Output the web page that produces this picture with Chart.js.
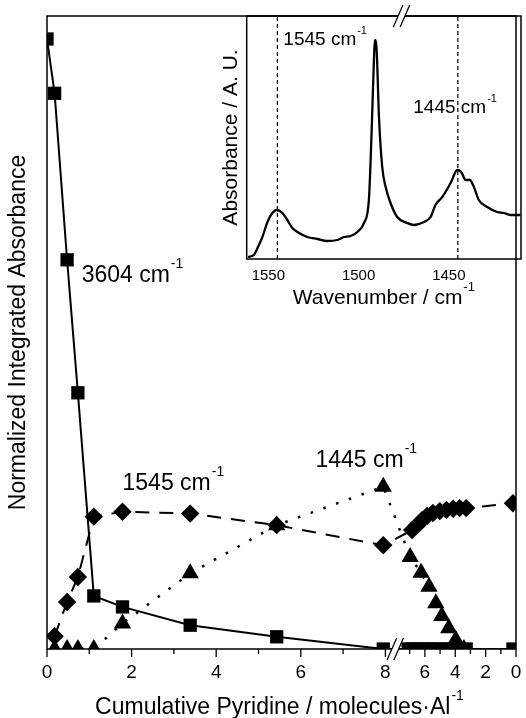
<!DOCTYPE html>
<html>
<head>
<meta charset="utf-8">
<title>Pyridine adsorption / desorption</title>
<script src="https://cdn.jsdelivr.net/npm/chart.js@4.4.1/dist/chart.umd.min.js"></script>
<style>
  body { margin: 0; background: #fff; }
  #wrap { position: relative; width: 526px; height: 718px; }
  #mainChart { position: absolute; left: 0; top: 0; }
  #insetChart { position: absolute; left: 200px; top: 0; }
</style>
</head>
<body>
<div id="wrap">
  <canvas id="mainChart" width="526" height="718"></canvas>
  <canvas id="insetChart" width="326" height="318"></canvas>
</div>
<script>
// left part of the x axis: adsorption, 0 -> 8 molecules/Al
const squareLeftX = [0, 0.18, 0.475, 0.73, 1.107, 1.785, 3.385, 5.43, 7.95];
const squareLeftY = [1.0, 0.911, 0.638, 0.42, 0.087, 0.069, 0.039, 0.02, 0];
const diamondLeftX = [0.18, 0.475, 0.73, 1.107, 1.785, 3.385, 5.43, 7.95];
const diamondLeftY = [0.021, 0.077, 0.118, 0.217, 0.225, 0.222, 0.203, 0.17];
const triangleLeftX = [0.18, 0.475, 0.73, 1.107, 1.785, 3.385, 5.43, 7.95];
const triangleLeftY = [0, 0, 0, 0, 0.042, 0.124, 0.203, 0.266];

// right part after the break: desorption, 7.5 -> 0 (reversed)
const squareRightX = [7.1, 6.84, 6.51, 6.19, 5.86, 5.47, 5.02, 4.58, 4.14, 3.71, 3.28, 0.2];
const squareRightY = [0, 0, 0, 0, 0, 0, 0, 0, 0, 0, 0, 0];
const diamondRightX = [6.84, 6.51, 6.19, 5.86, 5.47, 5.02, 4.58, 4.14, 3.71, 3.28, 0.2];
const diamondRightY = [0.195, 0.203, 0.211, 0.218, 0.223, 0.226, 0.228, 0.23, 0.231, 0.231, 0.239];
const triangleRightX = [6.97, 6.25, 5.73, 5.28, 4.89, 4.43, 3.97, 3.43];
const triangleRightY = [0.151, 0.125, 0.102, 0.075, 0.054, 0.034, 0.015, 0];

// tick labels of the broken x axis
const leftMajorTicks = [0, 2, 4, 6, 8];
const leftMinorTicks = [1, 3, 5, 7];
const rightMajorTicks = [6, 4, 2, 0];
const rightMinorTicks = [7, 5, 3, 1];

// inset spectrum
const wavenumber = [1561.3, 1558, 1556, 1553.3, 1550.5, 1547.8, 1545.4, 1542.2, 1539.5, 1536.7, 1533, 1528.4, 1522.9, 1517.3, 1511.8, 1508.1, 1504.4, 1500.7, 1497, 1494.3, 1492.8, 1491.5, 1491, 1490, 1488.7, 1486.9, 1485, 1482.3, 1478.6, 1473, 1469.4, 1463.8, 1460.1, 1457.4, 1453.6, 1449, 1445.3, 1443.1, 1440.7, 1438.4, 1436.1, 1433.4, 1428.7, 1423.2, 1419.5, 1415.8, 1410.3];
const absorbance = [2, 4, 11, 22, 37, 46, 49, 46, 39, 31, 26, 22, 20, 18, 19, 22, 23, 27, 36, 59, 126, 199, 219, 209, 142, 92, 72, 56, 42, 36, 34, 37, 42, 54, 62, 76, 89, 87, 79, 79, 72, 59, 52, 47, 46, 44, 44];
const bandPositions = [1545, 1445];
const insetTicks = [1550, 1500, 1450];

const FONT = '"Liberation Sans", Arial, Helvetica, sans-serif';
Chart.defaults.font.family = FONT;
Chart.defaults.color = '#000';

// broken axis: right part is squeezed and runs backwards
const X_END = 11.088;
const RIGHT_SCALE = 0.359;
const BREAK_AT = 8.234;
const toAxis = (v) => X_END - v * RIGHT_SCALE;

const pts = (lx, ly, rx, ry) => [
  ...lx.map((v, i) => ({ x: v, y: ly[i] })),
  ...rx.map((v, i) => ({ x: toAxis(v), y: ry[i] }))
];

const markerSet = (data, style, radius, dash, width) => ({
  data,
  borderColor: '#000',
  borderWidth: width,
  borderDash: dash,
  pointStyle: style,
  pointRadius: radius,
  pointBackgroundColor: '#000',
  pointBorderWidth: 0,
  tension: 0
});

const xTicks = [
  ...leftMajorTicks.map(v => ({ value: v, lbl: String(v), big: true })),
  ...leftMinorTicks.map(v => ({ value: v, lbl: '', big: false })),
  ...rightMajorTicks.map(v => ({ value: toAxis(v), lbl: String(v), big: true })),
  ...rightMinorTicks.map(v => ({ value: toAxis(v), lbl: '', big: false }))
].sort((a, b) => a.value - b.value);

// text with a "-1" superscript
const drawSup = (ctx, x, y, text, sup, size, align) => {
  const supSize = Math.round(size * 0.6);
  ctx.font = `${size}px ${FONT}`;
  const w1 = ctx.measureText(text).width;
  ctx.font = `${supSize}px ${FONT}`;
  const w2 = ctx.measureText(sup).width;
  const x0 = align === 'center' ? x - (w1 + w2 + 1) / 2 : x;
  ctx.fillStyle = '#000';
  ctx.textAlign = 'left';
  ctx.textBaseline = 'alphabetic';
  ctx.font = `${size}px ${FONT}`;
  ctx.fillText(text, x0, y);
  ctx.font = `${supSize}px ${FONT}`;
  ctx.fillText(sup, x0 + w1 + 1, y - size * 0.6);
};

const drawBreak = (ctx, bx, by, dir) => {
  const d = 3.4, h = 11, s = 4.8;
  ctx.fillStyle = '#fff';
  ctx.beginPath();
  ctx.moveTo(bx - d - s * 0.3, by + 3 * dir);
  ctx.lineTo(bx - d + s * 0.3, by - 3 * dir);
  ctx.lineTo(bx + d + s * 0.3, by - 3 * dir);
  ctx.lineTo(bx + d - s * 0.3, by + 3 * dir);
  ctx.closePath();
  ctx.fill();
  ctx.strokeStyle = '#000';
  ctx.lineWidth = 1.3;
  [-d, d].forEach(dx => {
    ctx.beginPath();
    ctx.moveTo(bx + dx - s, by + h * dir);
    ctx.lineTo(bx + dx + s, by - h * dir);
    ctx.stroke();
  });
};

const mainNotes = [
  { text: '3604 cm', x: 0.819, y: 0.602 },
  { text: '1545 cm', x: 1.785, y: 0.261 },
  { text: '1445 cm', x: 6.346, y: 0.299 }
];

const mainDecor = {
  id: 'mainDecor',
  afterDraw(chart) {
    const { ctx, chartArea: a, scales: { x, y } } = chart;
    ctx.save();
    ctx.strokeStyle = '#000';
    ctx.lineWidth = 1.5;
    ctx.strokeRect(a.left, a.top, a.right - a.left, a.bottom - a.top);

    ctx.lineWidth = 1.3;
    x.ticks.forEach(t => {
      const px = x.getPixelForValue(t.value);
      ctx.beginPath();
      ctx.moveTo(px, a.bottom);
      ctx.lineTo(px, a.bottom + (t.big ? 8 : 5));
      ctx.stroke();
    });

    drawBreak(ctx, x.getPixelForValue(BREAK_AT), a.bottom, 1);

    mainNotes.forEach(n => {
      drawSup(ctx, x.getPixelForValue(n.x), y.getPixelForValue(n.y), n.text, '-1', 23);
    });

    drawSup(ctx, (a.left + a.right) / 2 - 2, chart.height - 4,
      'Cumulative Pyridine / molecules\u00b7Al', '-1', 23, 'center');
    ctx.restore();
  }
};

new Chart(document.getElementById('mainChart'), {
  type: 'line',
  data: {
    datasets: [
      markerSet(pts(squareLeftX, squareLeftY, squareRightX, squareRightY), 'rect', 9.4, [], 2),
      markerSet(pts(diamondLeftX, diamondLeftY, diamondRightX, diamondRightY), 'rectRot', 9.2, [14, 10], 2),
      markerSet(pts(triangleLeftX, triangleLeftY, triangleRightX, triangleRightY), 'triangle', 10, [2.5, 11], 2.5)
    ]
  },
  options: {
    responsive: false,
    animation: false,
    events: [],
    layout: { padding: { left: 0, top: 16, right: 5, bottom: 0 } },
    plugins: { legend: { display: false }, tooltip: { enabled: false } },
    scales: {
      x: {
        type: 'linear',
        min: 0,
        max: X_END,
        grid: { display: false, drawTicks: false },
        border: { display: false },
        ticks: {
          font: { size: 19 },
          padding: 12,
          autoSkip: false,
          maxRotation: 0,
          callback: (v, i, ticks) => ticks[i].lbl
        },
        afterBuildTicks: (scale) => { scale.ticks = xTicks.map(t => ({ ...t })); },
        afterFit: (scale) => { scale.height = 69; scale.paddingLeft = 0; scale.paddingRight = 0; }
      },
      y: {
        type: 'linear',
        min: 0,
        max: 1.0377,
        ticks: { display: false },
        grid: { display: false, drawTicks: false },
        border: { display: false },
        title: {
          display: true,
          text: 'Normalized Integrated Absorbance',
          font: { size: 23 },
          padding: { top: 5, bottom: 0 }
        },
        afterFit: (scale) => { scale.width = 47; }
      }
    }
  },
  plugins: [mainDecor]
});

const insetNotes = [
  { text: '1545 cm', x: 1541.7, y: 214 },
  { text: '1445 cm', x: 1469.7, y: 145.7 }
];

const insetDecor = {
  id: 'insetDecor',
  afterDraw(chart) {
    const { ctx, chartArea: a, scales: { x, y } } = chart;
    ctx.save();
    ctx.strokeStyle = '#000';
    ctx.lineWidth = 1.5;
    ctx.strokeRect(a.left, a.top, a.right - a.left, a.bottom - a.top);
    drawBreak(ctx, x.getPixelForValue(1476.2), a.top, 1);
    insetNotes.forEach(n => {
      drawSup(ctx, x.getPixelForValue(n.x), y.getPixelForValue(n.y), n.text, '-1', 19);
    });
    drawSup(ctx, (a.left + a.right) / 2, 304, 'Wavenumber / cm', '-1', 21, 'center');
    ctx.restore();
  }
};

new Chart(document.getElementById('insetChart'), {
  type: 'line',
  data: {
    datasets: [
      {
        data: wavenumber.map((w, i) => ({ x: w, y: absorbance[i] })),
        borderColor: '#000',
        borderWidth: 2.3,
        pointRadius: 0,
        cubicInterpolationMode: 'monotone'
      },
      ...bandPositions.map(b => ({
        data: [{ x: b, y: 0 }, { x: b, y: 243 }],
        borderColor: '#000',
        borderWidth: 1.2,
        borderDash: [4, 3],
        pointRadius: 0
      }))
    ]
  },
  options: {
    responsive: false,
    animation: false,
    events: [],
    layout: { padding: { left: 0, top: 16, right: 5, bottom: 0 } },
    plugins: { legend: { display: false }, tooltip: { enabled: false } },
    scales: {
      x: {
        type: 'linear',
        reverse: true,
        min: 1410,
        max: 1562,
        grid: { display: false, drawTicks: false },
        border: { display: false },
        ticks: {
          font: { size: 15 },
          padding: 8,
          autoSkip: false,
          maxRotation: 0,
          callback: (v) => String(v)
        },
        afterBuildTicks: (scale) => { scale.ticks = insetTicks.map(v => ({ value: v })); },
        afterFit: (scale) => { scale.height = 59; scale.paddingLeft = 0; scale.paddingRight = 0; }
      },
      y: {
        type: 'linear',
        min: 0,
        max: 243,
        ticks: { display: false },
        grid: { display: false, drawTicks: false },
        border: { display: false },
        title: {
          display: true,
          text: 'Absorbance / A. U.',
          font: { size: 21 },
          padding: { top: 19, bottom: 0 }
        },
        afterFit: (scale) => { scale.width = 46.7; }
      }
    }
  },
  plugins: [insetDecor]
});
</script>
</body>
</html>
